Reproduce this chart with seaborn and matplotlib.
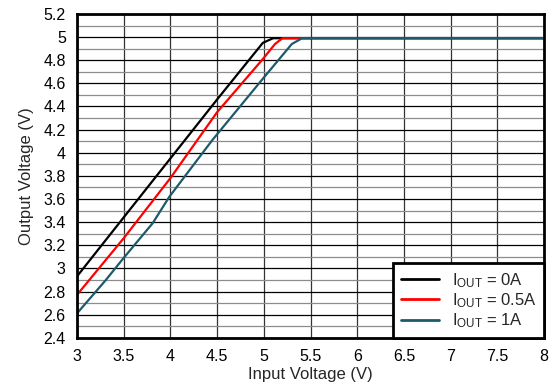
import matplotlib
matplotlib.use('Agg')
import matplotlib.pyplot as plt
import pandas as pd
import seaborn as sns
from matplotlib.ticker import MultipleLocator

# valores
vin_0a = [3.0, 3.5, 4.0, 4.5, 4.67, 4.99, 5.1, 5.5, 8.0]
vout_0a = [2.93, 3.44, 3.95, 4.46, 4.63, 4.95, 4.99, 4.99, 4.99]

vin_05a = [3.0, 3.5, 4.0, 4.5, 4.99, 5.12, 5.2, 5.5, 8.0]
vout_05a = [2.77, 3.26, 3.78, 4.35, 4.81, 4.94, 4.99, 4.99, 4.99]

vin_1a = [3.0, 3.31, 3.5, 3.81, 3.99, 4.45, 4.99, 5.3, 5.41, 8.0]
vout_1a = [2.61, 2.90, 3.09, 3.39, 3.62, 4.11, 4.64, 4.94, 4.99, 4.99]

labels = [r'$\mathregular{I_{OUT}}$ = 0A', r'$\mathregular{I_{OUT}}$ = 0.5A', r'$\mathregular{I_{OUT}}$ = 1A']
colors = ['#000000', '#ff0000', '#1d5b6b']

df = pd.concat([
    pd.DataFrame({'vin': vin_0a, 'vout': vout_0a, 'serie': labels[0]}),
    pd.DataFrame({'vin': vin_05a, 'vout': vout_05a, 'serie': labels[1]}),
    pd.DataFrame({'vin': vin_1a, 'vout': vout_1a, 'serie': labels[2]}),
])

sns.set_style('white')
plt.rcParams['font.family'] = ['Liberation Sans', 'DejaVu Sans']
plt.rcParams['mathtext.fontset'] = 'custom'
plt.rcParams['mathtext.rm'] = 'Liberation Sans'

fig = plt.figure(figsize=(5.53, 3.87), dpi=100)
ax = fig.add_axes([0.139, 0.127, 0.845, 0.837])

sns.lineplot(data=df, x='vin', y='vout', hue='serie', palette=colors,
             sort=False, estimator=None, linewidth=1.6, ax=ax)

ax.set_xlim(3, 8)
ax.set_ylim(2.4, 5.2)
ax.xaxis.set_major_locator(MultipleLocator(0.5))
ax.yaxis.set_major_locator(MultipleLocator(0.2))
ax.yaxis.set_minor_locator(MultipleLocator(0.1))
ax.set_xticklabels([f'{v:g}' for v in ax.get_xticks()])
ax.set_yticklabels([f'{v:g}' for v in ax.get_yticks()])

# grade: linhas principais pretas, secundarias cinza
ax.grid(which='major', axis='y', color='#000000', linewidth=0.9)
ax.grid(which='minor', axis='y', color='#8c8c8c', linewidth=0.9)
ax.grid(which='major', axis='x', color='#333333', linewidth=0.9)
ax.set_axisbelow(True)
ax.tick_params(which='both', length=0, labelsize=11.5, colors='black', pad=8)

for s in ax.spines.values():
    s.set_visible(True)
    s.set_color('black')
    s.set_linewidth(2)

ax.set_xlabel('Input Voltage (V)', fontsize=12, labelpad=2)
ax.set_ylabel('Output Voltage (V)', fontsize=12, labelpad=7)

leg = ax.legend(loc='lower right', borderaxespad=0, fancybox=False, framealpha=1,
                fontsize=12, handlelength=2.3, labelspacing=0.1, borderpad=0.45,
                handletextpad=0.75)
leg.get_frame().set_edgecolor('black')
leg.get_frame().set_linewidth(2)
for h in leg.get_lines():
    h.set_linewidth(2)

fig.savefig('out.png', dpi=100)
